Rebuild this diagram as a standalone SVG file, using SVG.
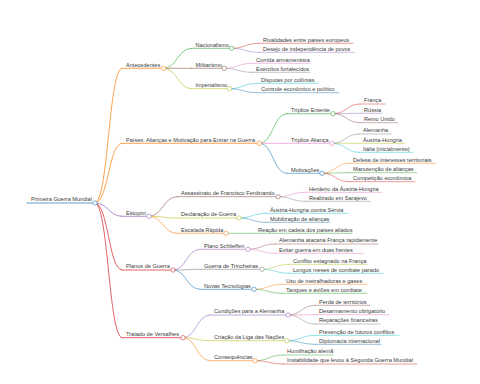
<svg xmlns="http://www.w3.org/2000/svg" width="480" height="384" viewBox="0 0 480 384">
<style>
text{font-family:"Liberation Sans",Arial,sans-serif;font-size:5.6px;fill:#3a3a3a}
path,line{fill:none;stroke-linecap:round;stroke-opacity:0.72}
circle{fill:#fff;stroke-width:0.7;stroke-opacity:0.8}
.d0{stroke-width:1.2}.d1{stroke-width:1}.d2{stroke-width:0.8}.d3{stroke-width:0.65}
.blue{stroke:#1f77b4}.orange{stroke:#ff7f0e}.green{stroke:#2ca02c}.red{stroke:#d62728}.purple{stroke:#9467bd}.brown{stroke:#8c564b}.pink{stroke:#e377c2}.gray{stroke:#7f7f7f}.olive{stroke:#bcbd22}.cyan{stroke:#17becf}
</style>
<g id="connectors">
<path class="d1 orange" d="M95 203C108.5 203 108.5 68.3 122 68.3"/>
<path class="d1 orange" d="M95 203C108.5 203 108.5 143.3 122 143.3"/>
<path class="d1 purple" d="M95 203C108.5 203 108.5 216.3 122 216.3"/>
<path class="d1 red" d="M95 203C108.5 203 108.5 270 122 270"/>
<path class="d1 red" d="M95 203C108.5 203 108.5 337.7 122 337.7"/>
<path class="d2 green" d="M163.5 68.3C177.5 68.3 177.5 48.3 191.5 48.3"/>
<path class="d2 brown" d="M163.5 68.3L191.5 68.3"/>
<path class="d2 olive" d="M163.5 68.3C177.5 68.3 177.5 88.7 191.5 88.7"/>
<path class="d3 red" d="M231.7 48.3C245.3 48.3 245.3 43.3 259 43.3"/>
<path class="d3 purple" d="M231.7 48.3C245.3 48.3 245.3 52.3 259 52.3"/>
<path class="d3 pink" d="M224.3 68.3C238.2 68.3 238.2 63.3 252 63.3"/>
<path class="d3 gray" d="M224.3 68.3C238.2 68.3 238.2 72.3 252 72.3"/>
<path class="d3 cyan" d="M229.5 88.7C243.2 88.7 243.2 83.3 257 83.3"/>
<path class="d3 blue" d="M229.5 88.7C243.2 88.7 243.2 92.7 257 92.7"/>
<path class="d2 green" d="M259.3 143.3C273.2 143.3 273.2 113.7 287 113.7"/>
<path class="d2 pink" d="M259.3 143.3L287 143.3"/>
<path class="d2 blue" d="M259.3 143.3C273.2 143.3 273.2 173.3 287 173.3"/>
<path class="d3 red" d="M333 113.7C346.5 113.7 346.5 104 360 104"/>
<path class="d3 purple" d="M333 113.7C346.5 113.7 346.5 113.3 360 113.3"/>
<path class="d3 brown" d="M333 113.7C346.5 113.7 346.5 122.7 360 122.7"/>
<path class="d3 gray" d="M332 143.3C345.5 143.3 345.5 134 359 134"/>
<path class="d3 olive" d="M332 143.3L359 143.3"/>
<path class="d3 cyan" d="M332 143.3C345.5 143.3 345.5 152.3 359 152.3"/>
<path class="d3 orange" d="M322 173.3C335.5 173.3 335.5 163.3 349 163.3"/>
<path class="d3 green" d="M322 173.3C335.5 173.3 335.5 172.7 349 172.7"/>
<path class="d3 red" d="M322 173.3C335.5 173.3 335.5 181.7 349 181.7"/>
<path class="d2 brown" d="M149 216.3C163 216.3 163 196.7 177 196.7"/>
<path class="d2 olive" d="M149 216.3C163 216.3 163 218 177 218"/>
<path class="d2 orange" d="M149 216.3C163 216.3 163 233.3 177 233.3"/>
<path class="d3 pink" d="M278 196.7C291.5 196.7 291.5 192.3 305 192.3"/>
<path class="d3 gray" d="M278 196.7C291.5 196.7 291.5 201.3 305 201.3"/>
<path class="d3 cyan" d="M239 218C252.5 218 252.5 213.3 266 213.3"/>
<path class="d3 blue" d="M239 218C252.5 218 252.5 222.3 266 222.3"/>
<path class="d3 green" d="M226 233.3L254 233.3"/>
<path class="d2 purple" d="M173 270C186.5 270 186.5 249.3 200 249.3"/>
<path class="d2 gray" d="M173 270C186.5 270 186.5 269.3 200 269.3"/>
<path class="d2 blue" d="M173 270C186.5 270 186.5 289.3 200 289.3"/>
<path class="d3 brown" d="M248 249.3C261.5 249.3 261.5 244 275 244"/>
<path class="d3 pink" d="M248 249.3C261.5 249.3 261.5 253.3 275 253.3"/>
<path class="d3 olive" d="M262 269.3C275.5 269.3 275.5 264.3 289 264.3"/>
<path class="d3 cyan" d="M262 269.3C275.5 269.3 275.5 273.3 289 273.3"/>
<path class="d3 orange" d="M254 289.3C268 289.3 268 284.3 282 284.3"/>
<path class="d3 green" d="M254 289.3C268 289.3 268 293.3 282 293.3"/>
<path class="d2 purple" d="M183 337.7C196.5 337.7 196.5 315 210 315"/>
<path class="d2 olive" d="M183 337.7C196.5 337.7 196.5 340.7 210 340.7"/>
<path class="d2 orange" d="M183 337.7C196.5 337.7 196.5 360.7 210 360.7"/>
<path class="d3 brown" d="M288 315C301.5 315 301.5 305.3 315 305.3"/>
<path class="d3 pink" d="M288 315C301.5 315 301.5 314.7 315 314.7"/>
<path class="d3 gray" d="M288 315C301.5 315 301.5 324 315 324"/>
<path class="d3 cyan" d="M287 340.7C301 340.7 301 335.3 315 335.3"/>
<path class="d3 blue" d="M287 340.7C301 340.7 301 344.3 315 344.3"/>
<path class="d3 green" d="M255 360.7C269 360.7 269 355 283 355"/>
<path class="d3 red" d="M255 360.7C269 360.7 269 364 283 364"/>
</g>
<g id="root"><line class="d0 blue" x1="27" y1="203" x2="95" y2="203"/><circle class="blue" cx="95" cy="203" r="2.2"/><text x="31" y="201">Primeira Guerra Mundial</text></g>
<g id="antecedentes"><line class="d1 orange" x1="122" y1="68.3" x2="163.5" y2="68.3"/><circle class="orange" cx="163.5" cy="68.3" r="2.2"/><text x="126" y="66.5">Antecedentes</text></g>
<g id="nacionalismo"><line class="d2 green" x1="191.5" y1="48.3" x2="231.7" y2="48.3"/><circle class="green" cx="231.7" cy="48.3" r="2.2"/><text x="195.5" y="46.5">Nacionalismo</text></g>
<g id="rivalidades"><line class="d3 red" x1="259" y1="43.3" x2="353" y2="43.3"/><text x="263" y="41.5">Rivalidades entre países europeus</text></g>
<g id="desejo"><line class="d3 purple" x1="259" y1="52.3" x2="354" y2="52.3"/><text x="263" y="50.5">Desejo de independência de povos</text></g>
<g id="militarismo"><line class="d2 brown" x1="191.5" y1="68.3" x2="224.3" y2="68.3"/><circle class="brown" cx="224.3" cy="68.3" r="2.2"/><text x="195.5" y="66.5">Militarismo</text></g>
<g id="corrida"><line class="d3 pink" x1="252" y1="63.3" x2="310" y2="63.3"/><text x="256" y="61.5">Corrida armamentista</text></g>
<g id="exercitos"><line class="d3 gray" x1="252" y1="72.3" x2="310" y2="72.3"/><text x="256" y="70.5">Exércitos fortalecidos</text></g>
<g id="imperialismo"><line class="d2 olive" x1="191.5" y1="88.7" x2="229.5" y2="88.7"/><circle class="olive" cx="229.5" cy="88.7" r="2.2"/><text x="195.5" y="86.9">Imperialismo</text></g>
<g id="disputas"><line class="d3 cyan" x1="257" y1="83.3" x2="318" y2="83.3"/><text x="261" y="81.5">Disputas por colônias</text></g>
<g id="controle"><line class="d3 blue" x1="257" y1="92.7" x2="339" y2="92.7"/><text x="261" y="90.9">Controle econômico e político</text></g>
<g id="paises"><line class="d1 orange" x1="122" y1="143.3" x2="259.3" y2="143.3"/><circle class="orange" cx="259.3" cy="143.3" r="2.2"/><text x="126" y="141.5">Países: Alianças e Motivação para Entrar na Guerra</text></g>
<g id="entente"><line class="d2 green" x1="287" y1="113.7" x2="333" y2="113.7"/><circle class="green" cx="333" cy="113.7" r="2.2"/><text x="291" y="111.9">Tríplice Entente</text></g>
<g id="franca"><line class="d3 red" x1="360" y1="104" x2="385" y2="104"/><text x="364" y="102.2">França</text></g>
<g id="russia"><line class="d3 purple" x1="360" y1="113.3" x2="382" y2="113.3"/><text x="364" y="111.5">Rússia</text></g>
<g id="reino-unido"><line class="d3 brown" x1="360" y1="122.7" x2="398" y2="122.7"/><text x="364" y="120.9">Reino Unido</text></g>
<g id="alianca"><line class="d2 pink" x1="287" y1="143.3" x2="332" y2="143.3"/><circle class="pink" cx="332" cy="143.3" r="2.2"/><text x="291" y="141.5">Tríplice Aliança</text></g>
<g id="alemanha"><line class="d3 gray" x1="359" y1="134" x2="391" y2="134"/><text x="363" y="132.2">Alemanha</text></g>
<g id="austria-hungria"><line class="d3 olive" x1="359" y1="143.3" x2="405" y2="143.3"/><text x="363" y="141.5">Áustria-Hungria</text></g>
<g id="italia"><line class="d3 cyan" x1="359" y1="152.3" x2="413" y2="152.3"/><text x="363" y="150.5">Itália (inicialmente)</text></g>
<g id="motivacoes"><line class="d2 blue" x1="287" y1="173.3" x2="322" y2="173.3"/><circle class="blue" cx="322" cy="173.3" r="2.2"/><text x="291" y="171.5">Motivações</text></g>
<g id="defesa"><line class="d3 orange" x1="349" y1="163.3" x2="436" y2="163.3"/><text x="353" y="161.5">Defesa de interesses territoriais</text></g>
<g id="manutencao"><line class="d3 green" x1="349" y1="172.7" x2="417" y2="172.7"/><text x="353" y="170.9">Manutenção de alianças</text></g>
<g id="competicao"><line class="d3 red" x1="349" y1="181.7" x2="415" y2="181.7"/><text x="353" y="179.9">Competição econômica</text></g>
<g id="estopim"><line class="d1 purple" x1="122" y1="216.3" x2="149" y2="216.3"/><circle class="purple" cx="149" cy="216.3" r="2.2"/><text x="126" y="214.5">Estopim</text></g>
<g id="assassinato"><line class="d2 brown" x1="177" y1="196.7" x2="278" y2="196.7"/><circle class="brown" cx="278" cy="196.7" r="2.2"/><text x="181" y="194.9">Assassinato de Francisco Ferdinando</text></g>
<g id="herdeiro"><line class="d3 pink" x1="305" y1="192.3" x2="382" y2="192.3"/><text x="309" y="190.5">Herdeiro da Áustria-Hungria</text></g>
<g id="sarajevo"><line class="d3 gray" x1="305" y1="201.3" x2="370" y2="201.3"/><text x="309" y="199.5">Realizado em Sarajevo</text></g>
<g id="declaracao"><line class="d2 olive" x1="177" y1="218" x2="239" y2="218"/><circle class="olive" cx="239" cy="218" r="2.2"/><text x="181" y="216.2">Declaração de Guerra</text></g>
<g id="contra-servia"><line class="d3 cyan" x1="266" y1="213.3" x2="348" y2="213.3"/><text x="270" y="211.5">Áustria-Hungria contra Sérvia</text></g>
<g id="mobilizacao"><line class="d3 blue" x1="266" y1="222.3" x2="330" y2="222.3"/><text x="270" y="220.5">Mobilização de alianças</text></g>
<g id="escalada"><line class="d2 orange" x1="177" y1="233.3" x2="226" y2="233.3"/><circle class="orange" cx="226" cy="233.3" r="2.2"/><text x="181" y="231.5">Escalada Rápida</text></g>
<g id="reacao"><line class="d3 green" x1="254" y1="233.3" x2="352" y2="233.3"/><text x="258" y="231.5">Reação em cadeia dos países aliados</text></g>
<g id="planos"><line class="d1 red" x1="122" y1="270" x2="173" y2="270"/><circle class="red" cx="173" cy="270" r="2.2"/><text x="126" y="268.2">Planos de Guerra</text></g>
<g id="schlieffen"><line class="d2 purple" x1="200" y1="249.3" x2="248" y2="249.3"/><circle class="purple" cx="248" cy="249.3" r="2.2"/><text x="204" y="247.5">Plano Schlieffen</text></g>
<g id="atacaria"><line class="d3 brown" x1="275" y1="244" x2="378" y2="244"/><text x="279" y="242.2">Alemanha atacaria França rapidamente</text></g>
<g id="evitar"><line class="d3 pink" x1="275" y1="253.3" x2="363" y2="253.3"/><text x="279" y="251.5">Evitar guerra em duas frentes</text></g>
<g id="trincheiras"><line class="d2 gray" x1="200" y1="269.3" x2="262" y2="269.3"/><circle class="gray" cx="262" cy="269.3" r="2.2"/><text x="204" y="267.5">Guerra de Trincheiras</text></g>
<g id="conflito"><line class="d3 olive" x1="289" y1="264.3" x2="367" y2="264.3"/><text x="293" y="262.5">Conflito estagnado na França</text></g>
<g id="longos"><line class="d3 cyan" x1="289" y1="273.3" x2="383" y2="273.3"/><text x="293" y="271.5">Longos meses de combate parado</text></g>
<g id="tecnologias"><line class="d2 blue" x1="200" y1="289.3" x2="254" y2="289.3"/><circle class="blue" cx="254" cy="289.3" r="2.2"/><text x="204" y="287.5">Novas Tecnologias</text></g>
<g id="metralhadoras"><line class="d3 orange" x1="282" y1="284.3" x2="367" y2="284.3"/><text x="286" y="282.5">Uso de metralhadoras e gases</text></g>
<g id="tanques"><line class="d3 green" x1="282" y1="293.3" x2="367" y2="293.3"/><text x="286" y="291.5">Tanques e aviões em combate</text></g>
<g id="tratado"><line class="d1 red" x1="122" y1="337.7" x2="183" y2="337.7"/><circle class="red" cx="183" cy="337.7" r="2.2"/><text x="126" y="335.9">Tratado de Versalhes</text></g>
<g id="condicoes"><line class="d2 purple" x1="210" y1="315" x2="288" y2="315"/><circle class="purple" cx="288" cy="315" r="2.2"/><text x="214" y="313.2">Condições para a Alemanha</text></g>
<g id="perda"><line class="d3 brown" x1="315" y1="305.3" x2="370" y2="305.3"/><text x="319" y="303.5">Perda de territórios</text></g>
<g id="desarmamento"><line class="d3 pink" x1="315" y1="314.7" x2="389" y2="314.7"/><text x="319" y="312.9">Desarmamento obrigatório</text></g>
<g id="reparacoes"><line class="d3 gray" x1="315" y1="324" x2="380" y2="324"/><text x="319" y="322.2">Reparações financeiras</text></g>
<g id="liga"><line class="d2 olive" x1="210" y1="340.7" x2="287" y2="340.7"/><circle class="olive" cx="287" cy="340.7" r="2.2"/><text x="214" y="338.9">Criação da Liga das Nações</text></g>
<g id="prevencao"><line class="d3 cyan" x1="315" y1="335.3" x2="399" y2="335.3"/><text x="319" y="333.5">Prevenção de futuros conflitos</text></g>
<g id="diplomacia"><line class="d3 blue" x1="315" y1="344.3" x2="381" y2="344.3"/><text x="319" y="342.5">Diplomacia internacional</text></g>
<g id="consequencias"><line class="d2 orange" x1="210" y1="360.7" x2="255" y2="360.7"/><circle class="orange" cx="255" cy="360.7" r="2.2"/><text x="214" y="358.9">Consequências</text></g>
<g id="humilhacao"><line class="d3 green" x1="283" y1="355" x2="333" y2="355"/><text x="287" y="353.2">Humilhação alemã</text></g>
<g id="instabilidade"><line class="d3 red" x1="283" y1="364" x2="417" y2="364"/><text x="287" y="362.2">Instabilidade que levou à Segunda Guerra Mundial</text></g>
</svg>
